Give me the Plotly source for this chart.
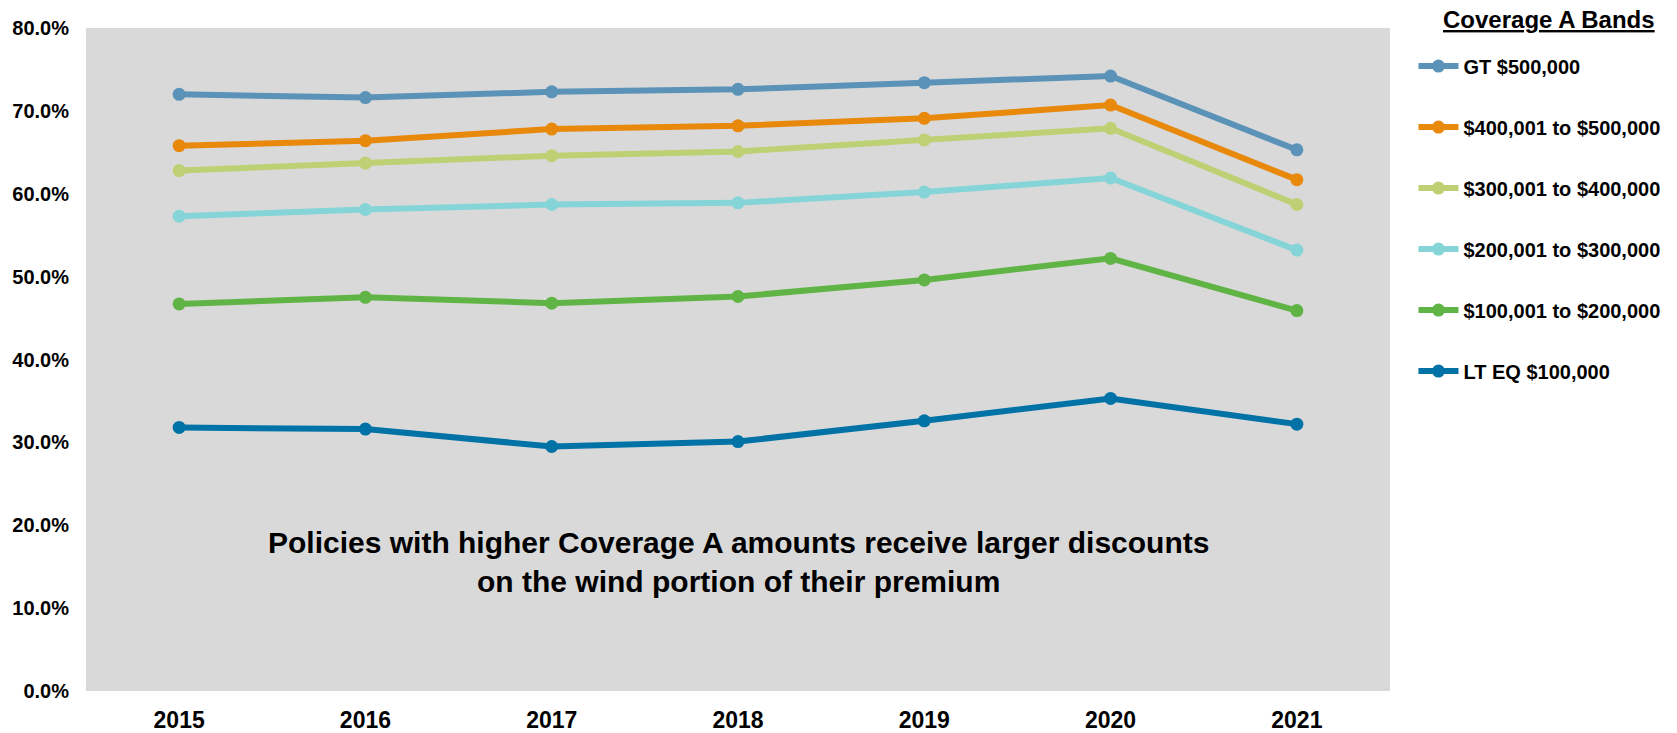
import plotly.graph_objects as go

years = ["2015", "2016", "2017", "2018", "2019", "2020", "2021"]

gt_500k = [72.0, 71.6, 72.3, 72.6, 73.4, 74.2, 65.3]
b_400k_500k = [65.8, 66.4, 67.8, 68.2, 69.1, 70.7, 61.7]
b_300k_400k = [62.8, 63.7, 64.6, 65.1, 66.5, 67.9, 58.7]
b_200k_300k = [57.3, 58.1, 58.7, 58.9, 60.2, 61.9, 53.2]
b_100k_200k = [46.7, 47.5, 46.8, 47.6, 49.6, 52.2, 45.9]
lt_eq_100k = [31.8, 31.6, 29.5, 30.1, 32.6, 35.3, 32.2]

series = [
    ("GT $500,000", gt_500k, "#5B92B8"),
    ("$400,001 to $500,000", b_400k_500k, "#E8890C"),
    ("$300,001 to $400,000", b_300k_400k, "#BDD174"),
    ("$200,001 to $300,000", b_200k_300k, "#85D5D8"),
    ("$100,001 to $200,000", b_100k_200k, "#60B445"),
    ("LT EQ $100,000", lt_eq_100k, "#0072A6"),
]

FONT = "Liberation Sans, Arial, sans-serif"

fig = go.Figure()
for name, vals, color in series:
    fig.add_trace(
        go.Scatter(
            x=years,
            y=vals,
            name=name,
            mode="lines+markers",
            line=dict(color=color, width=6),
            marker=dict(color=color, size=13),
            legendgroup=name,
        )
    )

# note inside the plot
fig.add_annotation(
    x=3,
    y=15.6,
    xref="x",
    yref="y",
    text="Policies with higher Coverage A amounts receive larger discounts<br>on the wind portion of their premium",
    showarrow=False,
    font=dict(family=FONT, size=30, color="#000000", weight="bold"),
    align="center",
)

# legend heading
fig.add_annotation(
    x=1.2048,
    y=1.0,
    xref="paper",
    yref="paper",
    text="<u>Coverage A Bands</u>",
    showarrow=False,
    font=dict(family=FONT, size=24, color="#000000", weight="bold"),
    xanchor="right",
    yanchor="middle",
    yshift=9,
)

fig.update_layout(
    width=1677,
    height=733,
    margin=dict(l=86, r=287, t=28, b=42),
    paper_bgcolor="#FFFFFF",
    plot_bgcolor="#D9D9D9",
    font=dict(family=FONT, color="#000000", weight="bold"),
    xaxis=dict(
        type="category",
        range=[-0.5, 6.5],
        automargin=False,
        showgrid=False,
        zeroline=False,
        showline=False,
        ticks="outside",
        ticklen=8,
        tickcolor="rgba(0,0,0,0)",
        tickfont=dict(family=FONT, size=23, weight="bold"),
    ),
    yaxis=dict(
        range=[0, 80],
        dtick=10,
        tickformat=".1f",
        ticksuffix="%",
        automargin=False,
        showgrid=False,
        zeroline=False,
        showline=False,
        ticks="outside",
        ticklen=12,
        tickcolor="rgba(0,0,0,0)",
        tickfont=dict(family=FONT, size=20, weight="bold"),
    ),
    legend=dict(
        x=1.018,
        y=0.972,
        xanchor="left",
        yanchor="top",
        font=dict(family=FONT, size=20, weight="bold"),
        tracegroupgap=32,
        itemwidth=40,
        bgcolor="rgba(0,0,0,0)",
    ),
)

fig.write_html(
    "out.html",
    config={"displayModeBar": False},
    post_script="document.body.style.margin='0';",
)
